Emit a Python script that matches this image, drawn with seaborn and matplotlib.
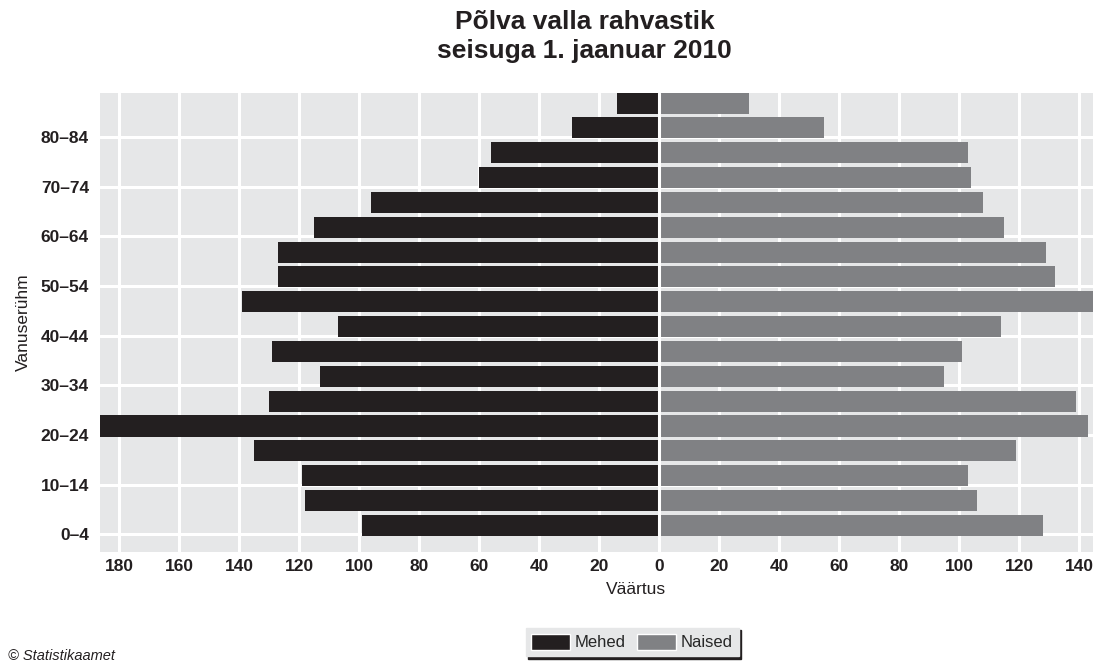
import matplotlib
matplotlib.use("Agg")
import matplotlib.pyplot as plt
from matplotlib.patches import Patch
import pandas as pd
import seaborn as sns

# Data
ages = ["0–4", "5–9", "10–14", "15–19", "20–24", "25–29", "30–34", "35–39",
        "40–44", "45–49", "50–54", "55–59", "60–64", "65–69", "70–74",
        "75–79", "80–84", "85+"]
men = [99, 118, 119, 135, 187, 130, 113, 129, 107, 139, 127, 127, 115, 96,
       60, 56, 29, 14]
women = [128, 106, 103, 119, 143, 139, 95, 101, 114, 145, 132, 129, 115, 108,
         104, 103, 55, 30]
x_ticks = [-180, -160, -140, -120, -100, -80, -60, -40, -20, 0,
           20, 40, 60, 80, 100, 120, 140]
sexes = ["Mehed", "Naised"]

men_color = "#231f20"
women_color = "#808184"
bg_color = "#e6e7e8"

df = pd.DataFrame({
    "Vanuserühm": ages * 2,
    "Väärtus": [-m for m in men] + women,
    "Sugu": [sexes[0]] * len(men) + [sexes[1]] * len(women),
})

sns.set_style("darkgrid", {"axes.facecolor": bg_color, "grid.color": "white"})
plt.rcParams["font.family"] = ["Liberation Sans", "DejaVu Sans"]

fig = plt.figure(figsize=(11.05, 6.65), dpi=100)
ax = fig.add_axes([0.0905, 0.170, 0.8984, 0.690])

sns.barplot(data=df, x="Väärtus", y="Vanuserühm", hue="Sugu",
            order=ages[::-1], hue_order=sexes,
            palette=[men_color, women_color], saturation=1,
            orient="h", dodge=False, width=0.85, errorbar=None,
            legend=False, linewidth=0, ax=ax)

# white gap at zero between the two halves
ax.axvline(0, color="white", lw=2.2, zorder=3)

# axes, ticks, grid
n = len(ages)
lab_idx = list(range(0, n, 2))
ax.set_yticks([n - 1 - i + 0.36 for i in lab_idx], [ages[i] for i in lab_idx])
ax.set_xticks(x_ticks, [str(abs(v)) for v in x_ticks])
ax.set_xlim(-186.5, 144.5)
ax.set_ylim(n + 0.07, -0.40)
ax.grid(True, color="white", linewidth=2.2)
ax.yaxis.grid(True)
ax.set_axisbelow(True)
for s in ax.spines.values():
    s.set_visible(False)
ax.tick_params(axis="both", length=0, labelsize=12.5, colors="#231f20")
ax.tick_params(axis="y", pad=8)
ax.tick_params(axis="x", pad=5)
for lbl in ax.get_xticklabels() + ax.get_yticklabels():
    lbl.set_fontweight("bold")

ax.set_xlabel("Väärtus", fontsize=12.5, color="#231f20")
ax.xaxis.set_label_coords(0.54, -0.066)
ax.set_ylabel("Vanuserühm", fontsize=12.5, color="#231f20")
ax.yaxis.set_label_coords(-0.0695, 0.5)

# title
fig.text(0.529, 1 - 10 / 665, "Põlva valla rahvastik\nseisuga 1. jaanuar 2010",
         ha="center", va="top", fontsize=19, fontweight="bold",
         linespacing=1.25, color="#231f20")

# legend
handles = [Patch(facecolor=men_color, label=sexes[0]),
           Patch(facecolor=women_color, label=sexes[1])]
fig.legend(handles=handles, loc="center", bbox_to_anchor=(632 / 1105, 1 - 642 / 665),
           ncol=2, frameon=True, fancybox=False,
           shadow={"color": men_color, "alpha": 1},
           facecolor=bg_color, edgecolor=bg_color, framealpha=1,
           handlelength=2.3, handleheight=1.15, handletextpad=0.3,
           columnspacing=0.7, borderpad=0.35, fontsize=12)

# source
fig.text(8 / 1105, 2 / 665, "© Statistikaamet", style="italic", fontsize=10.5,
         ha="left", va="bottom", color="#231f20")

fig.savefig("out.png", dpi=100)
